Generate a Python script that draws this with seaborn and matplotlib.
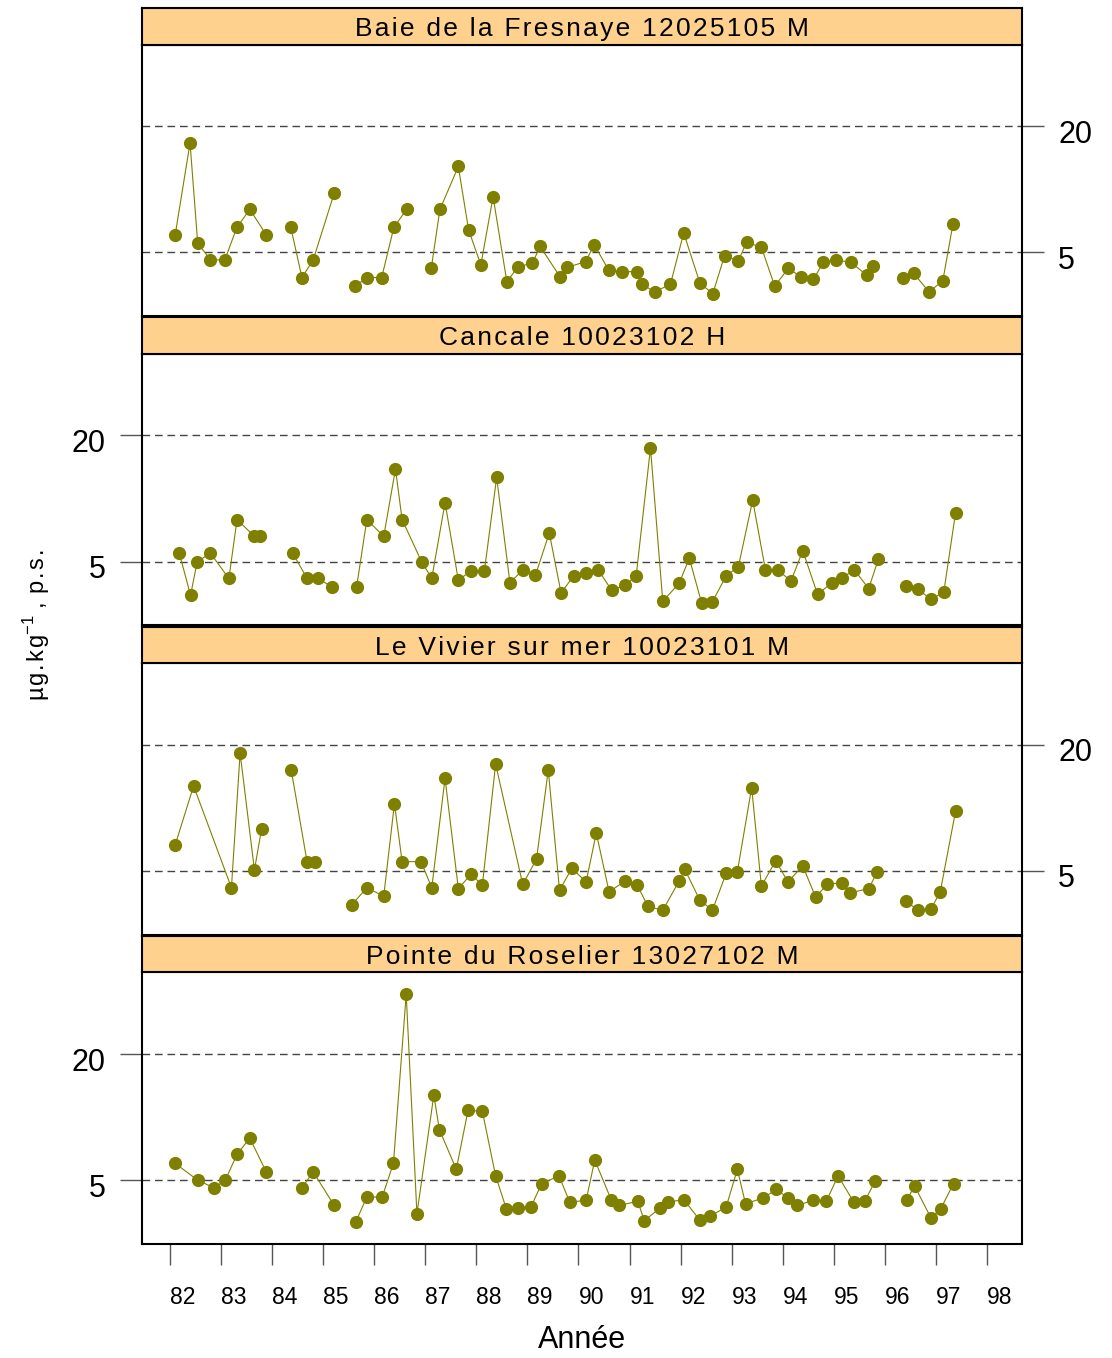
import numpy as np
import pandas as pd
import seaborn as sns
import matplotlib.pyplot as plt
from matplotlib.transforms import ScaledTranslation

# Data: year (82 = 1982) and value, nan = break in the series
sites = ["Baie de la Fresnaye 12025105 M", "Cancale 10023102 H",
         "Le Vivier sur mer 10023101 M", "Pointe du Roselier 13027102 M"]

nan = np.nan

fresnaye_an = [82.11, 82.40, 82.55, 82.80, 83.08, 83.32, 83.57, 83.89, nan,
               84.37, 84.59, 84.81, 85.22, nan,
               85.63, 85.87, 86.15, 86.39, 86.64, nan,
               87.12, 87.29, 87.65, 87.85, 88.09, 88.33, 88.60, 88.82, 89.10, 89.25,
               89.64, 89.78, 90.14, 90.31, 90.59, 90.85, 91.14, 91.25, 91.49, 91.80,
               92.06, 92.38, 92.63, 92.86, 93.13, 93.29, 93.58, 93.84, 94.11, 94.35,
               94.60, 94.79, 95.05, 95.33, 95.64, 95.76, nan,
               96.35, 96.56, 96.86, 97.13, 97.33]
fresnaye_val = [7.1, 18.0, 6.1, 4.1, 4.1, 8.0, 10.1, 7.1, nan,
                8.0, 2.0, 4.1, 12.0, nan,
                1.0, 2.0, 2.0, 8.0, 10.1, nan,
                3.1, 10.1, 15.2, 7.7, 3.5, 11.6, 1.5, 3.3, 3.7, 5.7,
                2.1, 3.2, 3.9, 5.9, 2.9, 2.7, 2.7, 1.2, 0.3, 1.2,
                7.3, 1.3, 0.1, 4.6, 4.0, 6.2, 5.6, 1.0, 3.1, 2.1,
                1.8, 3.8, 4.1, 3.8, 2.3, 3.4, nan,
                1.9, 2.5, 0.3, 1.6, 8.4]

cancale_an = [82.19, 82.41, 82.54, 82.80, 83.16, 83.32, 83.66, 83.77, nan,
              84.41, 84.69, 84.90, 85.18, nan,
              85.66, 85.86, 86.19, 86.42, 86.55, 86.93, 87.13, 87.39, 87.65, 87.90,
              88.16, 88.40, 88.66, 88.91, 89.16, 89.43, 89.66, 89.91, 90.15, 90.39,
              90.65, 90.92, 91.13, 91.41, 91.65, 91.97, 92.17, 92.41, 92.62, 92.89,
              93.13, 93.41, 93.66, 93.90, 94.16, 94.39, 94.68, 94.96, 95.16, 95.40,
              95.68, 95.87, nan,
              96.41, 96.65, 96.90, 97.15, 97.38]
cancale_val = [6.0, 1.0, 5.0, 6.0, 3.0, 10.0, 8.0, 8.0, nan,
               6.0, 3.0, 3.0, 2.0, nan,
               2.0, 10.0, 8.0, 16.0, 10.0, 5.0, 3.0, 12.0, 2.8, 3.9,
               3.9, 15.0, 2.5, 4.0, 3.4, 8.4, 1.3, 3.3, 3.7, 4.0,
               1.6, 2.2, 3.3, 18.5, 0.3, 2.4, 5.4, 0.1, 0.2, 3.3,
               4.4, 12.3, 4.0, 4.0, 2.7, 6.3, 1.1, 2.5, 3.1, 4.0,
               1.8, 5.3, nan,
               2.1, 1.7, 0.5, 1.4, 10.8]

vivier_an = [82.11, 82.47, 83.21, 83.38, 83.66, 83.80, nan,
             84.38, 84.69, 84.85, nan,
             85.57, 85.86, 86.19, 86.40, 86.55, 86.92, 87.13, 87.39, 87.65, 87.90,
             88.12, 88.38, 88.91, 89.18, 89.41, 89.63, 89.87, 90.15, 90.35, 90.60,
             90.91, 91.15, 91.36, 91.65, 91.97, 92.08, 92.37, 92.62, 92.89, 93.11,
             93.39, 93.58, 93.86, 94.10, 94.39, 94.64, 94.87, 95.15, 95.32, 95.68,
             95.85, nan,
             96.41, 96.65, 96.90, 97.08, 97.38]
vivier_val = [8.1, 15.1, 3.0, 19.0, 5.1, 10.0, nan,
              17.0, 6.1, 6.1, nan,
              1.0, 3.0, 2.0, 13.0, 6.1, 6.1, 3.0, 16.0, 2.9, 4.6,
              3.3, 17.7, 3.4, 6.4, 17.0, 2.7, 5.3, 3.7, 9.5, 2.5,
              3.8, 3.3, 0.8, 0.3, 3.8, 5.2, 1.6, 0.3, 4.7, 4.9,
              14.9, 3.2, 6.2, 3.7, 5.6, 1.9, 3.4, 3.6, 2.4, 2.9,
              4.9, nan,
              1.4, 0.3, 0.5, 2.5, 12.1]

roselier_an = [82.11, 82.55, 82.87, 83.09, 83.32, 83.57, 83.89, nan,
               84.59, 84.81, 85.22, nan,
               85.64, 85.86, 86.16, 86.38, 86.63, 86.84, 87.17, 87.28, 87.61, 87.84,
               88.12, 88.38, 88.59, 88.82, 89.07, 89.28, 89.62, 89.83, 90.15, 90.32,
               90.64, 90.80, 91.16, 91.29, 91.60, 91.76, 92.06, 92.37, 92.57, 92.89,
               93.11, 93.27, 93.62, 93.87, 94.10, 94.27, 94.60, 94.85, 95.08, 95.39,
               95.60, 95.81, nan,
               96.42, 96.58, 96.90, 97.09, 97.34]
roselier_val = [7.0, 5.0, 4.1, 5.0, 8.1, 10.0, 6.0, nan,
                4.1, 6.0, 2.0, nan,
                0.0, 3.0, 3.0, 7.0, 27.1, 1.0, 15.1, 11.0, 6.3, 13.3,
                13.2, 5.5, 1.6, 1.7, 1.8, 4.6, 5.5, 2.4, 2.6, 7.4,
                2.7, 2.0, 2.5, 0.2, 1.7, 2.4, 2.7, 0.3, 0.7, 1.8,
                6.3, 2.2, 2.9, 3.9, 2.9, 2.0, 2.6, 2.5, 5.5, 2.4,
                2.5, 4.9, nan,
                2.6, 4.3, 0.5, 1.6, 4.6]

years = list(range(82, 99))
ref_levels = [5, 20]

series = [(fresnaye_an, fresnaye_val), (cancale_an, cancale_val),
          (vivier_an, vivier_val), (roselier_an, roselier_val)]

sns.set_style("white")
plt.rcParams['font.family'] = ['Liberation Sans', 'DejaVu Sans']
plt.rcParams['text.color'] = 'black'

olive = '#808000'
strip_col = '#FFD18E'
tick_col = '#555555'
hair = '\u200a'


def spaced(s):
    # the reference draws its text with a little letter spacing
    return hair.join(s)


W, H = 1112, 1358
fig = plt.figure(figsize=(W / 100, H / 100), dpi=100)

left, width = 142, 880
step, strip_h, panel_h = 309.3, 36.5, 271.5

for i, (site, (an, val)) in enumerate(zip(sites, series)):
    s_top = 8 + step * i
    p_top = s_top + strip_h
    ax = fig.add_axes([left / W, 1 - (p_top + panel_h) / H, width / W, panel_h / H])
    st = fig.add_axes([left / W, 1 - p_top / H, width / W, strip_h / H])

    df = pd.DataFrame({'an': an, 'val': val})
    df['seg'] = df['val'].isna().cumsum()
    df = df.dropna()

    for lev in ref_levels:
        ax.axhline(lev, color='#444444', lw=1.0, ls=(0, (5.5, 3.5)), zorder=1)
    sns.lineplot(data=df, x='an', y='val', units='seg', estimator=None,
                 color=olive, lw=0.8, marker='o', markersize=9.5,
                 markeredgewidth=0, markeredgecolor=olive, ax=ax,
                 legend=False, zorder=3)

    ax.set_xlim(81.46, 98.68)
    ax.set_ylim(-2.57, 29.7)
    ax.set_xlabel('')
    ax.set_ylabel('')
    for sp in ax.spines.values():
        sp.set_color('black')
        sp.set_linewidth(1.5)
        sp.set_visible(True)

    ax.set_yticks(ref_levels)
    ax.set_yticklabels([str(v) for v in ref_levels])
    if i % 2 == 0:
        ax.yaxis.tick_right()
    else:
        ax.yaxis.tick_left()
    ax.tick_params(axis='y', length=16, width=1, color=tick_col, pad=10,
                   labelsize=22, labelcolor='black', direction='out')
    shift = ScaledTranslation(0, -5 / 100, fig.dpi_scale_trans)
    for lab in ax.get_yticklabels():
        lab.set_transform(lab.get_transform() + shift)

    if i == len(sites) - 1:
        ax.set_xticks(years)
        ax.set_xticklabels([''] * len(years))
        ax.set_xticks([y + 0.25 for y in years], minor=True)
        ax.set_xticklabels([str(y) for y in years], minor=True)
        ax.tick_params(axis='x', which='major', length=15, width=1,
                       color=tick_col, direction='out', bottom=True)
        ax.tick_params(axis='x', which='minor', length=0, pad=30,
                       labelsize=16.5, labelcolor='black', bottom=True)
    else:
        ax.set_xticks([])

    st.set_facecolor(strip_col)
    st.set_xticks([])
    st.set_yticks([])
    for sp in st.spines.values():
        sp.set_color('black')
        sp.set_linewidth(1.5)
        sp.set_visible(True)
    st.text(0.5, 0.42, spaced(site), ha='center', va='center', fontsize=19,
            color='black', transform=st.transAxes)

ylab = spaced('µg.kg') + r'$^{\mathregular{-1}}$' + ' ,' + hair + ' ' + spaced('p.s.')
fig.text(37 / W, 1 - 625 / H, ylab, rotation=90,
         ha='center', va='center', fontsize=17, color='black')
fig.text(582 / W, 1 - 1340 / H, 'Année', ha='center', va='center', fontsize=22,
         color='black')

fig.savefig('out.png', dpi=100)
